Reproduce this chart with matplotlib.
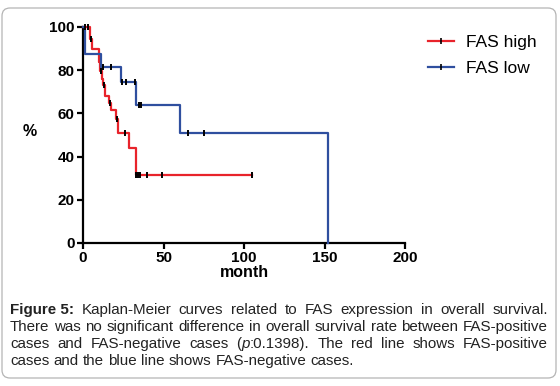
import numpy as np
import matplotlib
matplotlib.use("Agg")
import matplotlib.pyplot as plt
from matplotlib.lines import Line2D
from matplotlib.patches import FancyBboxPatch
from matplotlib.transforms import IdentityTransform

plt.rcParams['font.family'] = ['Liberation Sans', 'DejaVu Sans']

# Kaplan-Meier steps (time in months, survival in %)
red_t = [0, 4.5, 5.6, 10.0, 10.5, 11.5, 12.3, 13.5, 16.2, 17.2, 20.5, 21.5, 28.6, 32.7, 105]
red_s = [100, 94.5, 90, 84, 79.5, 76, 73, 68, 65, 61.7, 57.5, 50.8, 44, 31.6, 31.6]
red_cens = [1.0, 3.0, 5.0, 11.0, 12.8, 16.8, 21.0, 26.3, 33.2, 34.2, 35.7, 40.0, 49.3, 105.0]

blue_t = [0, 1.5, 11.0, 23.4, 32.8, 60.2, 152.2]
blue_s = [100, 87.5, 81.5, 74.5, 63.7, 50.9, 0]
blue_cens = [12.4, 17.2, 24.5, 26.8, 32.2, 34.5, 36.2, 65.2, 75.2]

labels = ["FAS high", "FAS low"]
x_ticks = [0, 50, 100, 150, 200]
y_ticks = [0, 20, 40, 60, 80, 100]

RED = "#e8232b"
BLUE = "#2f4f9f"

W, H = 560, 386
fig = plt.figure(figsize=(W / 100, H / 100), dpi=100)
ax = fig.add_axes([83 / W, 1 - 243 / H, (405 - 83) / W, (243 - 27) / H])


def level_at(t, s, x):
    i = np.searchsorted(t, x, side="right") - 1
    return np.asarray(s)[i]


for t, s, cens, col in [(red_t, red_s, red_cens, RED), (blue_t, blue_s, blue_cens, BLUE)]:
    ax.step(t, s, where="post", color=col, lw=1.6, clip_on=False, zorder=3)
    ax.plot(cens, level_at(t, s, cens), ls="none", marker="|", color="black",
            ms=4.5, mew=1.4, clip_on=False, zorder=4)

ax.set_xlim(0, 200)
ax.set_ylim(0, 100)
ax.set_xticks(x_ticks)
ax.set_yticks(y_ticks)
for side in ["top", "right"]:
    ax.spines[side].set_visible(False)
for side in ["left", "bottom"]:
    ax.spines[side].set_linewidth(1.6)
ax.tick_params(width=1.6, length=4, labelsize=11, pad=2)
for lab in ax.get_xticklabels() + ax.get_yticklabels():
    lab.set_fontweight("bold")
ax.set_xlabel("month", fontsize=11.5, fontweight="bold", labelpad=0)
ax.set_ylabel("%", fontsize=11.5, fontweight="bold", rotation=0, labelpad=0)
ax.yaxis.set_label_coords(-0.165, 0.48)

handles = [Line2D([], [], color=c, lw=1.6, marker="|", mec="black", ms=5, mew=1.2)
           for c in (RED, BLUE)]
fig.legend(handles, labels, loc="upper left", bbox_to_anchor=(428 / W, 1 - 35 / H),
           frameon=False, fontsize=12.5, numpoints=1, handlelength=1.5,
           handletextpad=0.7, labelspacing=0.62, borderaxespad=0, borderpad=0)

# caption, justified
caption = [
    ([[("Figure 5:", {"fontweight": "bold"})], "Kaplan-Meier", "curves", "related", "to", "FAS",
      "expression", "in", "overall", "survival."], True),
    ("There was no significant difference in overall survival rate between FAS-positive".split(), True),
    (["cases", "and", "FAS-negative", "cases",
      [("(", {}), ("p", {"fontstyle": "italic"}), (":0.1398).", {})],
      "The", "red", "line", "shows", "FAS-positive"], True),
    ("cases and the blue line shows FAS-negative cases.".split(), False),
]
cap_size = 10.9
x_left, x_right = 10, 548
baselines = [314, 331, 348, 365]
renderer = fig.canvas.get_renderer()


def make_word(word, y):
    segs = [(word, {})] if isinstance(word, str) else word
    arts = []
    for txt, kw in segs:
        a = fig.text(0, 1 - y / H, txt, fontsize=cap_size, va="baseline", ha="left",
                     color="#222222", **kw)
        arts.append((a, a.get_window_extent(renderer).width))
    return arts, sum(w for _, w in arts)


probe2 = fig.text(0, 0, "a a", fontsize=cap_size)
probe1 = fig.text(0, 0, "aa", fontsize=cap_size)
space_w = probe2.get_window_extent(renderer).width - probe1.get_window_extent(renderer).width
probe2.remove()
probe1.remove()

for (words, justify), y in zip(caption, baselines):
    built = [make_word(w, y) for w in words]
    widths = [b[1] for b in built]
    gap = (x_right - x_left - sum(widths)) / (len(words) - 1) if justify else space_w
    x = x_left
    for arts, wd in built:
        cx = x
        for a, aw in arts:
            a.set_x(cx / W)
            cx += aw
        x += wd + gap

fig.add_artist(FancyBboxPatch((2, H - 378), 554, 370, boxstyle="round,pad=0,rounding_size=8",
                              transform=IdentityTransform(), fill=False, ec="#b4b4b4", lw=0.9))

fig.savefig("out.png", dpi=100)
